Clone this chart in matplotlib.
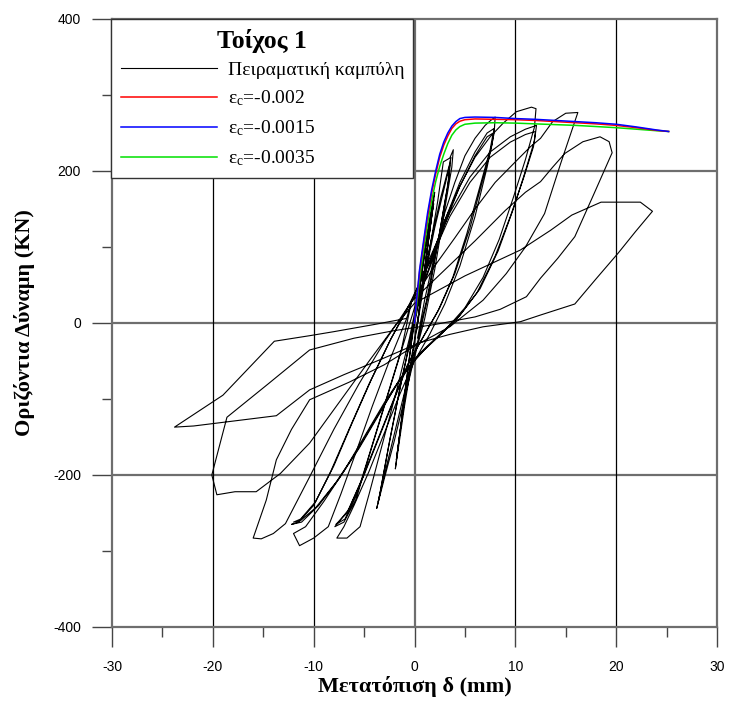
import matplotlib
matplotlib.use("Agg")
import matplotlib.pyplot as plt
from matplotlib.ticker import MultipleLocator

plt.rcParams['mathtext.fontset'] = 'custom'
plt.rcParams['mathtext.rm'] = 'Liberation Serif'
plt.rcParams['mathtext.it'] = 'Liberation Serif:italic'
plt.rcParams['axes.unicode_minus'] = False

# analytical (monotonic) curves
mono_x = [0, 0.2, 0.5, 0.9, 1.3, 1.7, 2.1, 2.5, 2.9, 3.3, 3.7, 4.1, 4.5, 5.0, 6.0, 8.0,
          10, 12, 14, 16, 18, 20, 22, 24, 25.2]
eps_002 = [0, 28, 67, 104, 140, 171, 196, 218, 234, 246, 256, 262, 265.5, 267.5, 268.5, 268,
           267.5, 266.5, 265, 263.5, 262, 260, 257, 253.5, 252]
eps_0015 = [0, 30, 70, 108, 145, 175, 200, 222, 238, 250, 259, 265, 269, 270.5, 271, 270.5,
            269, 268, 266.5, 265, 263.5, 261.5, 258, 254, 252]
eps_0035 = [0, 22, 58, 96, 131, 161, 186, 206, 222, 236, 247, 254, 258.5, 261.5, 263, 263.5,
            263, 262, 261, 260, 258.5, 257, 255, 253, 252]

# experimental hysteresis, one list per displacement level
lvl2_x = [0, 0.4, 0.9, 1.4, 1.8, 2.0, 1.8, 1.2, 0.5, 0.0, -0.5, -1.0, -1.5, -1.9, -1.7, -1.1,
          -0.5, 0.0, 0.6, 1.2, 1.9, 1.7, 1.0, 0.3, -0.3, -0.9, -1.4, -1.8, -1.6, -1.0, -0.3,
          0.2, 0.8, 1.4, 1.9, 1.6, 0.9, 0.2]
lvl2_y = [0, 35, 85, 130, 160, 172, 150, 90, 20, -25, -70, -110, -155, -192, -170, -110,
          -45, 5, 60, 110, 162, 140, 70, 0, -45, -95, -140, -180, -160, -95, -25,
          20, 70, 120, 157, 130, 60, -10]

lvl4_x = [0.8, 1.6, 2.3, 2.86, 3.5, 3.85, 3.7, 3.0, 2.0, 1.0, 0.0, -1.0, -2.0, -3.0, -3.75,
          -3.5, -2.6, -1.5, -0.4, 0.5, 1.5, 2.6, 3.5, 3.6, 3.4, 2.5, 1.5, 0.5, -0.6, -1.8,
          -2.9, -3.6, -3.4, -2.4, -1.2, 0.0, 1.0, 2.0, 3.0, 3.5, 3.3, 2.3, 1.2, 0.3]
lvl4_y = [40, 105, 160, 212, 217, 228, 205, 150, 70, 5, -45, -100, -155, -205, -244,
          -230, -165, -90, -20, 35, 100, 165, 210, 218, 190, 120, 45, -15, -70, -135,
          -195, -235, -222, -150, -70, 0, 60, 125, 180, 208, 180, 105, 30, -20]

lvl8_x = [1.0, 2.0, 3.0, 4.0, 5.0, 6.0, 7.0, 7.6, 8.0, 7.9, 7.2, 6.0, 4.5, 3.0, 1.5, 0.0,
          -1.5, -3.0, -4.5, -6.0, -7.0, -7.7, -6.7, -5.4, -4.5, -3.2, -1.8, -0.5, 0.2,
          1.5, 3.0, 4.5, 6.0, 7.2, 7.9, 7.7, 6.8, 5.5, 4.0, 2.5, 1.0, -0.5, -2.0, -3.5,
          -5.0, -6.5, -7.9, -7.0, -5.8, -4.5, -3.0, -1.5, 0.0, 1.5, 3.0, 4.5, 6.0, 7.2,
          7.8, 7.5, 6.5, 5.2, 3.8, 2.3, 0.8, -0.7, -2.2, -3.7, -5.2, -6.7, -7.8, -6.9,
          -5.7, -4.3, -2.8, -1.3, -0.3]
lvl8_y = [30, 90, 145, 185, 220, 243, 260, 267, 271, 250, 205, 140, 75, 25, -15, -50,
          -95, -145, -195, -240, -268, -283, -283, -268, -225, -160, -90, -20, 25,
          75, 135, 185, 225, 250, 256, 235, 190, 125, 65, 20, -15, -50, -100, -150,
          -200, -245, -268, -262, -232, -175, -110, -45, 20, 72, 130, 180, 220, 245,
          250, 228, 180, 118, 60, 15, -20, -55, -105, -155, -205, -250, -265, -258,
          -225, -165, -100, -35, 28]

lvl12_x = [1.5, 3.0, 4.5, 6.0, 7.5, 8.8, 10.1, 11.6, 12.05, 11.9, 11.0, 9.8, 8.4, 6.8, 5.0,
           3.0, 1.0, -1.0, -3.0, -5.0, -7.0, -9.0, -10.8, -12.0, -11.4, -10.0, -8.55, -7.3,
           -5.8, -4.2, -2.5, -0.8, -0.3,
           1.5, 3.5, 5.5, 7.5, 9.5, 11.0, 12.1, 11.9, 11.0, 9.8, 8.3, 6.5, 4.5, 2.5, 0.5,
           -1.5, -3.5, -5.5, -7.5, -9.5, -11.2, -12.2, -11.5, -10.0, -8.3, -6.5, -4.5, -2.5,
           -0.5,
           1.5, 3.5, 5.5, 7.5, 9.5, 11.0, 12.0, 11.8, 10.8, 9.5, 8.0, 6.2, 4.2, 2.2, 0.2,
           -1.8, -3.8, -5.8, -7.8, -9.8, -11.3, -12.0, -11.3, -9.8, -8.0, -6.2, -4.3, -2.3,
           -0.3]
lvl12_y = [80, 135, 180, 218, 245, 263, 278, 284, 282, 258, 215, 165, 110, 60, 20,
           -10, -35, -65, -105, -150, -195, -235, -268, -277, -293, -283, -268, -225,
           -170, -110, -50, 5, 28,
           85, 145, 192, 225, 245, 255, 260, 240, 200, 150, 95, 45, 10, -15, -40,
           -75, -120, -165, -205, -240, -262, -265, -262, -240, -195, -140, -80, -25,
           25,
           80, 140, 185, 218, 238, 248, 252, 232, 190, 140, 88, 40, 5, -20, -45,
           -82, -125, -170, -210, -243, -260, -262, -258, -235, -188, -132, -75, -20,
           28]

lvl16_x = [2.0, 4.0, 6.0, 8.0, 10.0, 11.5, 12.5, 13.7, 15.0, 16.2, 14.5, 12.9, 11.0, 9.1,
           6.8, 3.5, -0.1, -3.0, -6.5, -10.4, -12.2, -13.7, -14.7, -16.0, -15.2, -14.0,
           -12.8, -10.5, -8.0, -5.5, -3.0, -0.3]
lvl16_y = [75, 112, 150, 185, 212, 232, 243, 265, 276, 277, 210, 144, 100, 65,
           30, -5, -31, -55, -78, -101, -140, -180, -233, -283, -284, -277,
           -264, -205, -140, -80, -25, 28]

lvl20_x = [3.0, 6.0, 9.0, 11.0, 12.5, 13.7, 14.9, 16.7, 18.4, 19.3, 19.6, 17.8, 15.9, 14.2,
           12.5, 11.1, 8.5, 6.0, 2.0, -2.0, -6.0, -10.4, -14.5, -18.6, -20.1, -19.6, -17.8,
           -15.7, -13.3, -10.4, -7.5, -4.5, -2.0, 0.0]
lvl20_y = [70, 108, 148, 172, 186, 205, 223, 238.5, 245, 238.6, 224, 170, 113.6, 85,
           59, 34.6, 18, 8, -2, -10, -20, -35.5, -80, -124, -200, -226, -222,
           -222, -198, -158, -105, -50, -5, 26]

lvl24_x = [5.0, 10.5, 13.5, 15.6, 18.5, 22.4, 23.6, 21.9, 20.2, 18.0, 15.9, 12.5, 10.5, 6.8,
           3.5, 0.5, -3.0, -7.0, -10.4, -13.7, -21.9, -23.8, -19.0, -13.9, -10.4, -8.0,
           -4.0, -0.8]
lvl24_y = [62, 96, 122, 142, 159, 159, 147, 120, 92, 58, 25, 10.5, 1.7, -5,
           -15, -26, -46, -68, -88, -122, -135.5, -137, -95, -24, -16.7, -11.4,
           -2, 6]

exp_x = lvl2_x + lvl4_x + lvl8_x + lvl12_x + lvl16_x + lvl20_x + lvl24_x
exp_y = lvl2_y + lvl4_y + lvl8_y + lvl12_y + lvl16_y + lvl20_y + lvl24_y

labels = ['Πειραματική καμπύλη', r'$\mathrm{ε}_\mathrm{c}$=-0.002',
          r'$\mathrm{ε}_\mathrm{c}$=-0.0015', r'$\mathrm{ε}_\mathrm{c}$=-0.0035']

fig = plt.figure(figsize=(7.3, 7.01), dpi=100)
ax = fig.add_axes([112 / 730, 74 / 701, 605 / 730, 608 / 701])

# grid: horizontal lines grey, vertical lines black except zero
for yv in [-200, 0, 200]:
    ax.axhline(yv, color='#6e6e6e', lw=1.6, zorder=1)
for xv in [-20, -10, 10, 20]:
    ax.axvline(xv, color='black', lw=0.9, zorder=1)
ax.axvline(0, color='#6e6e6e', lw=1.6, zorder=1)

l_exp, = ax.plot(exp_x, exp_y, color='black', lw=0.8, zorder=3)
l_g, = ax.plot(mono_x, eps_0035, color='#00e000', lw=1.1, zorder=4)
l_r, = ax.plot(mono_x, eps_002, color='red', lw=1.1, zorder=4)
l_b, = ax.plot(mono_x, eps_0015, color='blue', lw=1.1, zorder=4)

ax.set_xlim(-30, 30)
ax.set_ylim(-400, 400)
ax.xaxis.set_major_locator(MultipleLocator(10))
ax.xaxis.set_minor_locator(MultipleLocator(5))
ax.yaxis.set_major_locator(MultipleLocator(200))
ax.yaxis.set_minor_locator(MultipleLocator(100))
ax.tick_params(which='major', direction='out', length=14.4, width=1.0, color='#444444',
               labelsize=10, pad=9.5)
ax.tick_params(which='minor', direction='out', length=7.2, width=1.0, color='#444444')
ax.tick_params(axis='y', which='major', pad=8)
for lab in ax.get_xticklabels() + ax.get_yticklabels():
    lab.set_fontfamily('Liberation Sans')
for sp in ax.spines.values():
    sp.set_color('#6e6e6e')
    sp.set_linewidth(1.6)

ax.set_xlabel('Μετατόπιση δ (mm)', fontfamily='Liberation Serif', fontweight='bold', fontsize=16)
ax.set_ylabel('Οριζόντια Δύναμη (KN)', fontfamily='Liberation Serif', fontweight='bold', fontsize=16)
ax.xaxis.set_label_coords(0.5, -(676 - 627) / 608)
ax.yaxis.set_label_coords((35 - 112) / 605, 0.5)

leg = ax.legend([l_exp, l_r, l_b, l_g], labels, loc='upper left',
                bbox_to_anchor=(-1 / 605, 1.0, 302 / 605, 0), mode='expand', borderaxespad=0,
                title='Τοίχος 1',
                title_fontproperties={'family': 'Liberation Serif', 'weight': 'bold', 'size': 18.5},
                prop={'family': 'Liberation Serif', 'size': 14}, frameon=True, fancybox=False,
                edgecolor='#333333', framealpha=1, handlelength=4.95, handletextpad=0.57,
                labelspacing=0.52, borderpad=0.5)
leg.get_frame().set_linewidth(1.0)
leg._legend_box.sep = 6  # gap between title and first entry

fig.savefig('out.png', dpi=100)
